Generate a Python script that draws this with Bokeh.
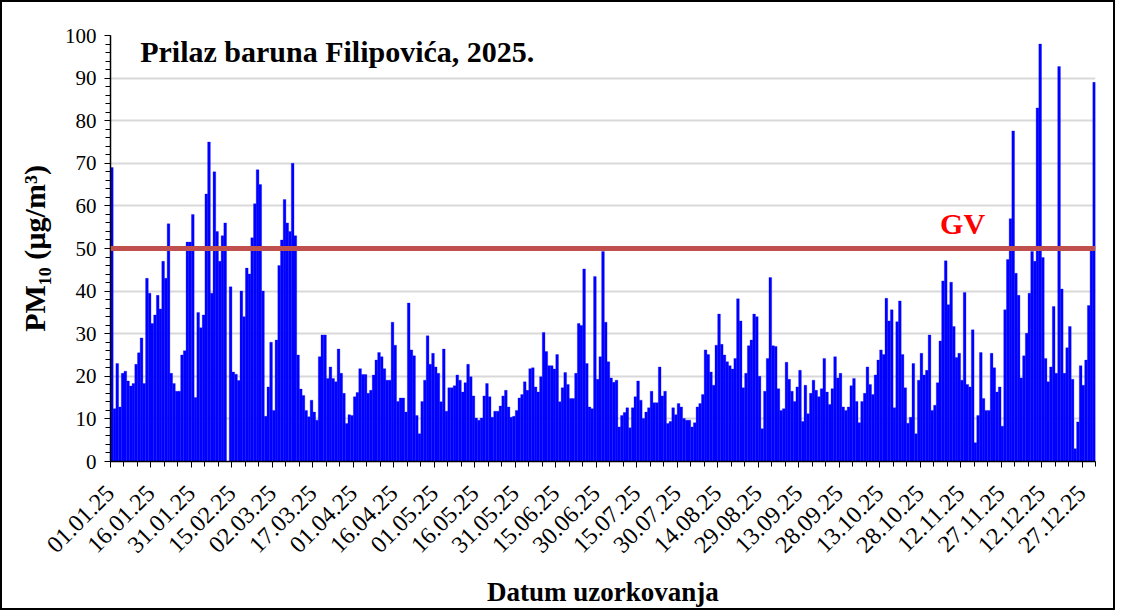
import math
import numpy as np
from bokeh.plotting import figure
from bokeh.models import ColumnDataSource, FixedTicker, Span, Label, Range1d
from bokeh.embed import file_html
from bokeh.resources import INLINE

# Daily PM10 concentrations (µg/m³), 2025, per month
jan = [69, 12.4, 23, 12.8, 20.7, 21.2, 18.9, 17.7, 18.3, 22.8, 25.5, 29, 18.3, 43, 39.5, 32.4,
       34.4, 39, 35.8, 47, 43, 55.8, 20.7, 18.3, 16.5, 16.5, 25, 26, 51.5, 51.5, 58]
feb = [15, 35, 31.4, 34.4, 62.8, 75, 39.5, 68, 54, 47, 53, 56, None, 41, 21, 20.5, 19, 40, 34,
       45.4, 44, 52.5, 60.5, 68.5, 65, 40, 10.6, 17.5]
mar = [28, 12, 28.5, 46, 52, 61.5, 56, 54, 70, 53, 25, 17, 15.5, 12, 10.5, 14.4, 11.6, 9.7, 24.6,
       29.7, 29.7, 19.5, 22.2, 19.5, 18.7, 26.4, 20.7, 16, 8.9, 11, 10.8]
apr = [15.2, 16.2, 21.8, 20.4, 20.4, 16, 16.7, 20.3, 23.8, 25.6, 24.6, 21.8, 19.1, 19.1, 32.7,
       27.3, 14.1, 14.9, 14.9, 11.6, 37.2, 26.2, 24.8, 10.8, 6.5, 14.1, 19.1, 29.5, 22.8, 25.4]
may = [22.2, 20.7, 14, 26.4, 11.8, 17.3, 17.3, 17.8, 20.3, 19.1, 16.3, 18.5, 22.8, 19.9, 15.4,
       10.2, 9.7, 10.2, 15.4, 18.3, 15.2, 10.4, 11.8, 11.8, 13, 15.4, 16.7, 12.8, 10.4, 10.6, 12]
jun = [14.9, 15.7, 18.7, 16.7, 21.8, 22, 17.5, 16.3, 19.9, 30.3, 25.8, 22.5, 22.5, 21.7, 25.1,
       14, 17.3, 20.9, 18.1, 14.8, 14.8, 20.7, 32.4, 31.9, 45.2, 23, 12.8, 12.4, 43.4, 19.3]
jul = [24.6, 49.3, 32.7, 23.4, 19.6, 18.6, 19.1, 8.1, 10.8, 11.5, 12.6, 7.9, 12.6, 15.2, 18.9,
       14.4, 10.1, 11.6, 12.6, 16.5, 13.8, 13.8, 22.2, 15.4, 16.5, 8.9, 9.4, 12.6, 11, 13.6, 12.8]
aug = [10.1, 9.7, 9.7, 8.1, 9.1, 12.8, 13.6, 15.7, 26.2, 25.1, 21, 17.9, 27.3, 34.6, 27.5, 25,
       23.4, 22.5, 21.7, 24.2, 38.2, 33, 17.3, 20.7, 27.2, 28.5, 34.6, 34, 20, 7.7, 16.5]
sep = [24.2, 43.2, 27.2, 27, 17.1, 12, 12.4, 23.3, 19.3, 16.5, 14.1, 17.5, 21.4, 9.4, 17.9,
       11.2, 16, 19.1, 16.7, 15.2, 17.1, 24.2, 16.3, 13.4, 17.1, 24.6, 19.6, 20.7, 12.8, 12]
okt = [12.8, 17.8, 19.5, 14.1, 9.1, 14.1, 16, 22.2, 18.1, 15.7, 20.3, 23.8, 26.2, 25.1, 38.3,
       33, 35.6, 12.6, 32.8, 37.7, 25.1, 17.3, 9, 10.4, 23, 6.5, 19.1, 25.4, 20.3, 21.4, 29.7]
nov = [12, 13.2, 18.5, 28.3, 42.4, 47.1, 36.8, 42.1, 31.7, 24.4, 25.4, 19.1, 39.7, 18.1, 17.5,
       30.9, 4.4, 10.8, 25.6, 14.8, 12, 12, 25.4, 22, 16.3, 17.5, 8.3, 35.6, 47.4, 57]
dec = [77.6, 44.2, 39, 19.6, 24.8, 30.1, 39.5, 49.3, 47, 83, 98, 47.9, 24.2, 18.7, 22.2, 36.4,
       20.7, 92.7, 40.5, 20.7, 26.7, 31.7, 19.3, 3, 9.3, 22.5, 17.9, 23.8, 36.6, 50, 89]

tick_labels = ["01.01.25", "16.01.25", "31.01.25", "15.02.25", "02.03.25", "17.03.25",
               "01.04.25", "16.04.25", "01.05.25", "16.05.25", "31.05.25", "15.06.25",
               "30.06.25", "15.07.25", "30.07.25", "14.08.25", "29.08.25", "13.09.25",
               "28.09.25", "13.10.25", "28.10.25", "12.11.25", "27.11.25", "12.12.25",
               "27.12.25"]
limit_value = 50
title_text = "Prilaz baruna Filipovića, 2025."

months = [jan, feb, mar, apr, may, jun, jul, aug, sep, okt, nov, dec]
pm10 = np.array([v for m in months for v in m], dtype=float)
day = np.arange(len(pm10))
src = ColumnDataSource(dict(x=day + 0.5, v=pm10))

tick_pos = [i * 15 for i in range(len(tick_labels))]

FONT = "Liberation Serif"

p = figure(width=1115, height=610, x_range=Range1d(0, len(pm10)), y_range=Range1d(0, 100),
           output_backend="svg", toolbar_location=None,
           min_border_left=108, min_border_right=22, min_border_top=33, min_border_bottom=151)
p.styles = {"border": "2px solid black"}
p.outline_line_color = None
p.background_fill_color = "white"
p.border_fill_color = "white"

p.vbar(x="x", top="v", width=1.0, source=src, fill_color="#0000FF",
       line_color="#0000FF", line_width=0.3)

p.add_layout(Span(location=limit_value, dimension="width", line_color="#C0504D", line_width=5))

# axes
p.xgrid.visible = False
p.ygrid.grid_line_color = "#D9D9D9"
p.ygrid.grid_line_width = 2

p.yaxis.ticker = FixedTicker(ticks=list(range(0, 101, 10)), minor_ticks=list(range(0, 101, 2)))
p.xaxis.ticker = FixedTicker(ticks=tick_pos, minor_ticks=list(range(0, len(pm10) + 1, 5)))
p.xaxis.major_label_overrides = {t: l for t, l in zip(tick_pos, tick_labels)}
p.xaxis.major_label_orientation = math.pi / 4

for ax in (p.xaxis[0], p.yaxis[0]):
    ax.axis_line_color = "black"
    ax.axis_line_width = 1.5
    ax.major_tick_line_color = "black"
    ax.minor_tick_line_color = "black"
    ax.major_tick_out = 6
    ax.major_tick_in = 0
    ax.minor_tick_out = 5
    ax.minor_tick_in = 0
    ax.major_label_text_font = FONT
    ax.major_label_text_color = "black"
    ax.axis_label_text_font = FONT
    ax.axis_label_text_font_style = "bold"
    ax.axis_label_text_color = "black"

p.yaxis.major_label_text_font_size = "21px"
p.xaxis.major_label_text_font_size = "24px"
p.yaxis.axis_label_text_font_size = "30px"
p.xaxis.axis_label_text_font_size = "27px"
p.yaxis.major_label_standoff = 8
p.xaxis.major_label_standoff = 22
p.yaxis.axis_label = "PM₁₀ (µg/m³)"
p.yaxis.axis_label_standoff = 11
p.xaxis.axis_label = "Datum uzorkovanja"
p.xaxis.axis_label_standoff = 14

p.add_layout(Label(x=11, y=92.3, text=title_text, text_font=FONT, text_font_style="bold",
                   text_font_size="30px", text_color="black"))
p.add_layout(Label(x=307.4, y=52, text="GV", text_font=FONT, text_font_style="bold",
                   text_font_size="30px", text_color="#FF0000"))

open("out.html", "w").write(file_html(p, INLINE))
